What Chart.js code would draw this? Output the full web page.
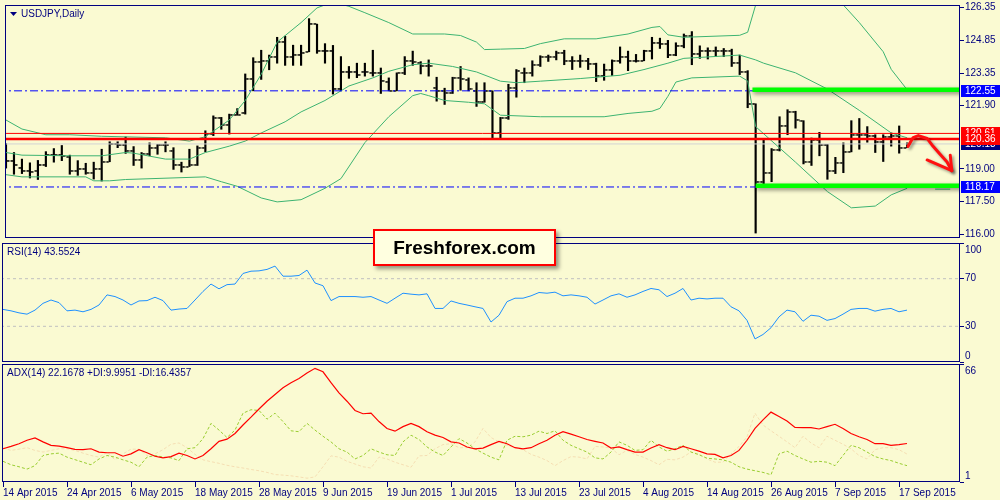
<!DOCTYPE html>
<html>
<head>
<meta charset="utf-8">
<script src="https://cdn.jsdelivr.net/npm/chart.js@4.4.1/dist/chart.umd.min.js"></script>
<style>
  body { margin: 0; background: #FAFAD2; }
  #wrap { position: relative; width: 1000px; height: 500px; overflow: hidden; }
  canvas { position: absolute; left: 0; }
  #logo {
    position: absolute; left: 373px; top: 229px; width: 179px; height: 33px;
    border: 2px solid #ff0000; background: #FFFFE0;
    box-shadow: 3px 3px 4px rgba(0,0,0,0.4);
    font: bold 19px "Liberation Sans", Arial, sans-serif; color: #000;
    text-align: center; line-height: 33px; z-index: 5;
  }
</style>
</head>
<body>
<div id="wrap">
  <canvas id="price" width="1000" height="243" style="top:0"></canvas>
  <canvas id="rsi" width="1000" height="120" style="top:243px"></canvas>
  <canvas id="adx" width="1000" height="136" style="top:364px"></canvas>
  <div id="logo">Freshforex.com</div>
</div>
<script>
// USDJPY daily bars, 14 Apr 2015 .. 18 Sep 2015
const opens = [119.74,119.34,119.03,118.90,118.92,119.15,119.62,119.62,119.52,118.92,
  118.97,118.82,118.97,119.32,120.15,120.06,119.81,119.41,119.66,119.96,
  120.06,119.81,119.15,119.10,119.19,119.96,120.58,121.29,121.00,121.44,
  121.52,123.07,123.88,123.91,124.11,124.77,124.11,124.18,124.33,125.59,
  124.36,124.36,122.63,123.40,123.40,123.40,123.37,123.37,122.95,122.55,
  123.37,123.91,123.81,123.66,122.67,122.55,122.43,123.14,123.03,122.55,
  122.03,122.52,120.63,121.29,122.70,123.37,123.37,123.74,124.11,124.11,
  124.26,123.89,123.89,123.92,123.77,123.22,123.52,123.92,124.11,123.92,
  123.92,124.36,124.74,124.70,124.18,124.60,125.07,124.21,124.36,124.36,
  124.36,124.36,123.81,123.41,121.93,118.38,118.82,119.86,120.95,121.59,
  121.19,119.33,120.33,120.06,118.88,119.27,119.77,120.55,120.55,120.48,
  120.21,120.45,120.51,119.96];
const highs = [120.15,119.74,119.44,119.27,119.38,119.78,119.92,120.06,119.62,119.37,
  119.25,119.30,119.89,120.23,120.23,120.45,120.01,119.74,120.18,120.11,
  120.23,119.96,119.30,119.89,120.04,120.73,121.41,121.34,121.49,121.74,
  123.32,124.06,124.40,124.18,124.99,125.04,124.63,124.63,125.84,125.59,
  124.70,124.62,124.11,123.66,123.81,123.81,124.40,123.59,123.14,123.37,
  124.11,124.36,123.88,123.96,123.17,122.67,123.17,123.66,123.14,122.92,
  122.92,122.55,121.34,122.85,123.52,123.59,123.92,124.15,124.18,124.36,
  124.40,124.11,124.18,124.03,123.81,123.77,123.96,124.55,124.36,124.21,
  124.40,124.99,124.95,124.85,124.74,125.14,125.25,124.60,124.51,124.55,
  124.48,124.45,124.18,123.47,121.96,120.36,119.92,121.37,121.69,121.62,
  121.19,120.40,120.66,120.11,119.52,120.18,121.19,121.29,120.92,120.55,
  120.55,120.63,120.95,120.18];
const lows = [119.03,118.75,118.78,118.58,118.51,119.10,119.30,119.37,118.75,118.70,
  118.75,118.53,118.44,119.32,119.96,119.70,119.15,119.03,119.59,119.66,
  119.77,118.97,118.85,119.10,119.15,119.77,120.51,120.80,120.58,121.44,
  121.49,122.55,123.07,123.51,123.81,123.71,123.71,123.71,124.33,124.26,
  123.81,122.40,122.55,123.12,123.15,123.22,123.22,122.43,122.55,122.55,
  123.29,123.71,123.32,123.22,122.08,121.93,122.43,122.58,122.55,121.84,
  122.03,120.38,120.38,121.25,122.26,122.92,123.22,123.66,123.89,123.96,
  123.74,123.52,123.62,123.52,122.97,123.03,123.25,123.81,123.47,123.86,
  123.92,124.00,124.48,124.06,124.15,124.51,123.74,124.03,124.00,124.11,
  124.11,123.66,123.29,121.78,116.07,118.18,118.41,119.81,120.55,120.85,
  119.22,119.15,119.59,118.52,118.78,118.82,119.77,119.89,120.21,119.74,
  119.33,120.03,119.71,119.96];
const closes = [119.34,119.15,118.92,118.85,119.15,119.62,119.62,119.56,118.92,118.97,
  118.82,118.97,119.32,120.15,120.06,119.81,119.41,119.66,119.96,120.06,
  120.06,119.15,119.07,119.19,119.96,120.58,121.29,121.00,121.44,121.47,
  123.07,123.88,123.91,124.11,124.77,124.11,124.18,124.26,125.59,124.36,
  124.36,122.63,123.40,123.40,123.29,123.40,123.37,123.00,122.55,123.37,
  123.91,123.88,123.66,123.66,122.55,122.43,123.14,123.07,122.63,122.03,
  122.52,120.63,121.29,122.70,123.44,123.37,123.74,124.11,124.11,124.26,
  123.89,123.89,123.92,123.77,123.22,123.52,123.92,124.11,123.92,123.92,
  124.36,124.74,124.70,124.18,124.60,125.07,124.21,124.36,124.36,124.36,
  124.36,123.81,123.41,121.93,118.38,118.82,119.86,120.95,121.59,121.22,
  119.33,120.33,120.06,118.88,119.27,119.77,120.55,120.55,120.48,120.21,
  120.45,120.51,119.96,120.13];

// Bollinger bands (20), vertices read as [bar, price]
const bbUpper = [[0,121.22],[2,120.81],[5,120.55],[8,120.55],[12,120.48],[20,120.41],[23,120.26],[25,120.46],
  [28,121.22],[30,122.11],[32,123.3],[34,124.77],[37,125.66],[39,126.33],[41,126.6],[43,126.40],[45,126.11],
  [48,125.66],[51,125.14],[55,125.14],[57,125.07],[59,124.77],[60,124.43],[62,124.45],[65,124.48],[67,124.70],
  [70,124.92],[74,124.92],[78,125.14],[81,125.44],[82,125.48],[83,125.10],[85,124.99],[92,125.08],[93,125.22],
  [94,126.46],[98,127.6],[102,128.0],[105,126.46],[107,125.66],[110,124.33],[111,123.53],[113,122.60]];
const bbMiddle = [[0,119.74],[2,119.62],[8,119.59],[12,119.59],[15,119.74],[16,119.71],[20,119.44],[23,119.44],
  [25,119.74],[28,120.03],[30,120.26],[32,120.63],[35,121.14],[37,121.59],[40,122.11],[41,122.33],[43,122.77],
  [46,123.14],[48,123.44],[51,123.74],[53,123.81],[56,123.66],[59,123.41],[62,122.99],[64,122.92],[67,122.99],
  [72,123.11],[77,123.26],[80,123.52],[83,123.81],[85,124.03],[92,124.18],[94,123.96],[95,123.81],[99,123.37],
  [103,122.63],[107,121.66],[111,120.63],[113,120.41]];
const bbLower = [[0,118.73],[2,118.63],[10,118.63],[11,118.45],[13,118.45],[15,118.51],[25,118.63],[27,118.41],
  [29,118.20],[32,117.67],[34,117.49],[37,117.59],[40,118.11],[42,118.55],[45,120.19],[48,121.37],[51,122.33],
  [52,122.43],[53,122.33],[55,122.11],[58,122.03],[60,121.96],[62,121.44],[67,121.37],[75,121.37],[78,121.52],
  [81,121.62],[82,121.75],[83,122.3],[84,122.95],[86,123.14],[92,123.22],[93,123.0],[94,120.92],[99,119.30],
  [103,117.96],[106,117.22],[109,117.30],[111,117.81],[113,118.11]];

// levels drawn on the chart
const blueLevels = [122.55, 118.17];
const redLevels = [120.61, 120.36];
const bidPrice = 120.13;
const greenZones = [[93.6, 122.60], [94, 118.22]];
const priceTicks = [126.35, 124.85, 123.35, 121.90, 119.00, 117.50, 116.00];

const rsi = [44.2,43.0,41.3,40.2,43.6,49.3,52.1,49.9,43.0,43.6,
  42.2,44.2,47.9,56.4,55.0,52.1,47.9,51.3,51.6,54.4,
  51.6,43.6,44.5,45.0,52.1,59.3,65.5,61.5,65.0,65.5,
  74.4,76.3,76.6,77.8,80.6,72.1,72.1,72.7,77.2,66.4,
  64.1,51.6,55.0,55.0,55.0,54.4,55.0,52.1,49.3,53.6,
  57.8,57.0,56.4,57.3,45.0,45.0,51.3,49.3,47.9,46.4,
  45.0,33.6,39.3,50.7,53.6,53.6,55.6,58.4,57.8,58.7,
  55.6,56.4,55.6,54.4,48.7,52.1,55.6,57.3,54.4,56.4,
  59.3,61.8,60.7,55.0,57.8,61.8,52.1,53.6,53.0,53.6,
  53.6,46.4,43.0,35.0,19.4,23.1,28.8,37.9,43.6,42.2,
  34.2,39.3,38.5,35.0,36.5,40.2,44.2,45.0,45.0,42.7,
  44.2,45.0,42.2,43.6];
const rsiLevels = [70, 30];

const adx = [19.3,20.6,22.1,24.0,25.3,23.1,21.2,20.8,19.9,19.0,
  18.8,19.3,17.5,17.1,17.1,15.2,16.5,18.8,17.1,15.2,
  14.3,15.0,16.9,15.6,13.7,15.6,19.3,23.4,24.6,27.7,
  32.4,36.7,41.2,45.5,49.2,52.9,55.7,58.0,61.0,63.6,
  61.7,55.7,50.1,45.5,40.4,38.6,38.9,34.3,30.5,29.0,
  31.5,33.3,31.5,28.7,26.8,25.5,23.1,22.5,20.3,19.3,
  19.7,21.6,23.4,22.1,19.9,19.3,19.9,22.1,24.0,26.8,
  28.7,27.4,25.9,24.4,23.4,22.5,19.7,20.3,18.8,17.5,
  17.5,19.7,21.6,19.9,18.8,20.6,19.3,18.0,16.5,16.2,
  14.3,15.6,18.4,24.0,30.5,35.2,39.5,37.1,34.6,31.1,
  30.9,30.9,30.2,31.5,32.8,30.5,27.7,25.9,24.4,22.1,
  22.1,21.2,21.6,22.2];
const plusDI = [12.4,10.5,9.4,8.1,10.0,15.6,16.5,16.9,14.7,13.3,
  11.9,10.5,13.7,15.6,14.7,13.2,11.9,9.4,14.7,15.6,
  14.7,14.3,12.8,19.3,19.9,24.9,33.3,29.6,25.5,29.6,
  38.9,40.8,40.4,35.6,38.9,34.3,29.2,28.7,33.3,29.6,
  26.2,23.1,19.3,17.5,13.7,15.6,19.3,17.5,16.0,15.6,
  23.1,26.8,24.4,20.3,17.5,15.6,20.3,24.9,22.5,19.3,
  16.9,14.7,13.2,24.0,26.2,25.9,26.8,29.0,27.7,29.2,
  24.0,21.2,19.3,17.5,14.3,13.7,17.5,23.1,21.2,18.4,
  18.8,24.0,20.3,18.0,19.3,21.2,17.5,16.0,14.1,13.7,
  13.2,11.9,9.4,8.1,7.2,6.3,5.0,16.5,18.0,15.6,
  13.7,11.9,12.4,11.9,10.0,15.6,21.2,19.9,17.5,15.0,
  13.7,12.8,11.3,10.0];
const minusDI = [19.9,18.4,19.1,19.9,18.4,17.5,18.4,19.3,19.3,18.4,
  16.9,15.6,14.7,17.3,13.2,16.5,19.1,19.1,15.6,16.5,
  18.8,21.8,22.5,19.9,16.2,13.2,12.2,11.3,10.2,9.4,
  8.7,7.9,7.2,6.3,5.1,4.8,4.4,3.8,3.1,3.8,
  9.4,15.4,14.7,12.4,10.9,9.4,8.7,14.7,13.7,11.9,
  10.5,9.1,15.4,15.6,19.3,21.6,22.1,19.9,19.9,23.1,
  30.5,25.5,23.1,21.2,19.9,18.8,16.2,14.7,12.8,10.0,
  12.8,15.0,14.7,13.7,20.6,20.3,19.7,16.0,18.4,16.2,
  14.7,12.8,10.5,13.5,13.2,14.7,17.5,16.5,13.7,11.9,
  11.9,16.5,20.6,25.9,38.9,32.4,29.2,26.2,23.1,19.9,
  26.2,22.5,19.9,26.2,24.0,21.8,19.3,15.6,13.7,18.8,
  19.9,19.9,18.8,16.4];

// hand drawn arrow, [bar, price]
const arrowPath = [[113.1,120.02],[113.75,120.42],[114.4,120.51],[115.5,120.38],[116.25,120.02],[117.1,119.67],[118,119.31],[118.6,118.91]];
const arrowHead = [[115.5,119.40],[118.6,118.91],[118.4,119.62]];

// dates: one bar per weekday
const MONTHS = ['Jan','Feb','Mar','Apr','May','Jun','Jul','Aug','Sep','Oct','Nov','Dec'];
const dates = [];
for (let d = new Date(2015, 3, 14); dates.length < closes.length; d.setDate(d.getDate() + 1)) {
  if (d.getDay() !== 0 && d.getDay() !== 6) dates.push(d.getDate() + ' ' + MONTHS[d.getMonth()] + ' ' + d.getFullYear());
}
const dateTicks = [];
for (let i = 0; i < closes.length; i += 8) dateTicks.push(i);

const NAVY = '#000080';
const FONT = '"Liberation Sans", Arial, sans-serif';
Chart.defaults.font.family = FONT;
Chart.defaults.font.size = 10;
Chart.defaults.color = NAVY;

function xScale(show) {
  const s = {
    type: 'linear', min: -0.125, max: 119.625, display: show, offset: false,
    grid: { drawOnChartArea: false, drawTicks: true, tickLength: 5, color: NAVY },
    border: { display: false },
    ticks: { autoSkip: false, maxRotation: 0, align: 'start', padding: 0, color: NAVY,
      callback: v => dates[v] || '' }
  };
  if (show) {
    s.afterBuildTicks = sc => { sc.ticks = dateTicks.map(v => ({ value: v })); };
    s.afterFit = sc => { sc.height = 18; sc.paddingLeft = 0; sc.paddingRight = 0; };
  }
  return s;
}
function yScale(min, max, ticks, showLabels) {
  return {
    position: 'right', min: min, max: max,
    afterBuildTicks: s => { s.ticks = ticks.map(v => ({ value: v })); },
    afterFit: s => { s.width = 40; s.paddingTop = 0; s.paddingBottom = 0; },
    grid: { drawOnChartArea: false, drawTicks: true, tickLength: 4, color: NAVY },
    border: { display: false },
    ticks: { display: showLabels, padding: 1, color: NAVY, callback: v => v.toFixed(2) }
  };
}

// panel frame + title
function panel(title, arrow) {
  return {
    id: 'panel',
    afterDraw(ch) {
      const a = ch.chartArea, g = ch.ctx;
      g.save();
      g.strokeStyle = NAVY; g.lineWidth = 1;
      g.strokeRect(a.left + 0.5, a.top + 0.5, a.right - a.left - 1, a.bottom - a.top - 1);
      g.fillStyle = NAVY; g.font = '10px ' + FONT; g.textBaseline = 'middle';
      let x = a.left + 5;
      if (arrow) {
        g.beginPath(); g.moveTo(a.left + 5, a.top + 7); g.lineTo(a.left + 12, a.top + 7); g.lineTo(a.left + 8.5, a.top + 11); g.closePath(); g.fill();
        x = a.left + 16;
      }
      g.fillText(title, x, a.top + 9);
      g.restore();
    }
  };
}
function sideLabels(vals) {
  return {
    id: 'side',
    afterDraw(ch) {
      const s = ch.scales.y, a = ch.chartArea, g = ch.ctx;
      g.save(); g.fillStyle = NAVY; g.font = '10px ' + FONT; g.textBaseline = 'middle';
      vals.forEach(v => {
        const y = Math.min(Math.max(s.getPixelForValue(v), a.top + 7), a.bottom - 6);
        g.fillText(String(v), a.right + 5, y);
      });
      g.restore();
    }
  };
}
const shadow = {
  id: 'shadow',
  beforeDatasetDraw(ch, args) {
    if (!ch.data.datasets[args.index].shadow) return;
    const g = ch.ctx; g.save();
    g.shadowColor = 'rgba(0,0,0,0.45)'; g.shadowBlur = 4; g.shadowOffsetX = 1; g.shadowOffsetY = 2;
  },
  afterDatasetDraw(ch, args) {
    if (ch.data.datasets[args.index].shadow) ch.ctx.restore();
  }
};
const priceMarks = {
  id: 'priceMarks',
  afterDraw(ch) {
    const g = ch.ctx, xs = ch.scales.x, ys = ch.scales.y, a = ch.chartArea;
    // arrow
    g.save();
    g.strokeStyle = '#ff1010'; g.lineWidth = 3; g.lineCap = 'round'; g.lineJoin = 'round';
    g.shadowColor = 'rgba(0,0,0,0.4)'; g.shadowBlur = 3; g.shadowOffsetX = 2; g.shadowOffsetY = 2;
    g.beginPath();
    arrowPath.forEach((p, k) => {
      const px = xs.getPixelForValue(p[0]), py = ys.getPixelForValue(p[1]);
      k ? g.lineTo(px, py) : g.moveTo(px, py);
    });
    g.stroke();
    g.beginPath();
    arrowHead.forEach((p, k) => {
      const px = xs.getPixelForValue(p[0]), py = ys.getPixelForValue(p[1]);
      k ? g.lineTo(px, py) : g.moveTo(px, py);
    });
    g.stroke();
    g.restore();
    // price boxes on the axis
    const boxes = [[bidPrice, NAVY], [blueLevels[0], '#0000ff'], [blueLevels[1], '#0000ff'], [redLevels[0], '#ff0000'], [redLevels[1], '#ff0000']];
    g.save(); g.font = '10px ' + FONT; g.textBaseline = 'middle';
    boxes.forEach(b => {
      const y = Math.round(ys.getPixelForValue(b[0]));
      g.fillStyle = b[1]; g.fillRect(a.right + 1, y - 6, 40, 12);
      g.fillStyle = '#ffffff'; g.fillText(b[0].toFixed(2), a.right + 5, y);
    });
    g.restore();
  }
};

function tickImg(open) {
  const c = document.createElement('canvas'); c.width = 8; c.height = 2;
  const g = c.getContext('2d'); g.fillStyle = '#000';
  g.fillRect(open ? 0.5 : 4.8, 0.2, 2.7, 1.5);
  return c;
}
const hline = (v, from, to) => [{ x: from, y: v }, { x: to, y: v }];
const pts = arr => arr.map(p => ({ x: p[0], y: p[1] }));
const bbStyle = { type: 'line', borderColor: '#3CB371', borderWidth: 1, pointRadius: 0, order: 5 };

new Chart(document.getElementById('price'), {
  type: 'bar',
  data: {
    datasets: [
      { type: 'bar', data: highs.map((h, i) => ({ x: i, y: [lows[i], h] })), backgroundColor: '#000', barThickness: 1.5, grouped: false, order: 10 },
      { type: 'line', data: opens.map((v, i) => ({ x: i, y: v })), showLine: false, pointStyle: tickImg(true), pointRadius: 3, order: 10 },
      { type: 'line', data: closes.map((v, i) => ({ x: i, y: v })), showLine: false, pointStyle: tickImg(false), pointRadius: 3, order: 10 },
      Object.assign({ data: pts(bbUpper) }, bbStyle),
      Object.assign({ data: pts(bbMiddle) }, bbStyle),
      Object.assign({ data: pts(bbLower) }, bbStyle),
      { type: 'line', data: hline(bidPrice, -1, 121), borderColor: '#D3D3D3', borderWidth: 1, pointRadius: 0, order: 8 },
      ...blueLevels.map(v => ({ type: 'line', data: hline(v, -1, 121), borderColor: '#0000ff', borderWidth: 1, borderDash: [8, 3, 2, 3], pointRadius: 0, order: 3 })),
      { type: 'line', data: hline(redLevels[0], -1, 121), borderColor: '#ff0000', borderWidth: 1, pointRadius: 0, order: 3 },
      { type: 'line', data: hline(redLevels[1], -1, 121), borderColor: '#ff0000', borderWidth: 2.5, pointRadius: 0, order: 3 },
      ...greenZones.map(z => ({ type: 'line', data: hline(z[1], z[0], 121), borderColor: '#00ff00', borderWidth: 4.5, pointRadius: 0, order: 1, shadow: true })),
      { type: 'line', data: hline(118.07, 116.5, 118.4), borderColor: '#3CB371', borderWidth: 1, pointRadius: 0, order: 1 }
    ]
  },
  options: {
    responsive: false, animation: false, events: [], devicePixelRatio: 1,
    layout: { padding: { left: 2, top: 2, bottom: 2, right: 0 } },
    plugins: { legend: { display: false }, tooltip: { enabled: false } },
    scales: { x: xScale(false), y: yScale(115.845, 126.461, priceTicks, true) }
  },
  plugins: [panel('USDJPY,Daily', true), shadow, priceMarks]
});

new Chart(document.getElementById('rsi'), {
  type: 'line',
  data: {
    datasets: [
      { data: rsi.map((v, i) => ({ x: i, y: v })), borderColor: '#1E90FF', borderWidth: 1, pointRadius: 0, order: 1 },
      ...rsiLevels.map(v => ({ data: hline(v, -1, 121), borderColor: '#C0C0C0', borderWidth: 1, borderDash: [3, 3], pointRadius: 0, order: 2 }))
    ]
  },
  options: {
    responsive: false, animation: false, events: [], devicePixelRatio: 1,
    layout: { padding: { left: 2, top: 0, bottom: 1, right: 0 } },
    plugins: { legend: { display: false }, tooltip: { enabled: false } },
    scales: { x: xScale(false), y: yScale(0, 100, [100, 70, 30, 0], false) }
  },
  plugins: [panel('RSI(14) 43.5524', false), sideLabels([100, 70, 30, 0])]
});

new Chart(document.getElementById('adx'), {
  type: 'line',
  data: {
    datasets: [
      { data: adx.map((v, i) => ({ x: i, y: v })), borderColor: '#ff0000', borderWidth: 1.2, pointRadius: 0, order: 1 },
      { data: plusDI.map((v, i) => ({ x: i, y: v })), borderColor: '#9ACD32', borderWidth: 1, borderDash: [3, 2], pointRadius: 0, order: 2 },
      { data: minusDI.map((v, i) => ({ x: i, y: v })), borderColor: '#F5DEB3', borderWidth: 1, borderDash: [3, 2], pointRadius: 0, order: 3 }
    ]
  },
  options: {
    responsive: false, animation: false, events: [], devicePixelRatio: 1,
    layout: { padding: { left: 2, top: 0, bottom: 0, right: 0 } },
    plugins: { legend: { display: false }, tooltip: { enabled: false } },
    scales: { x: xScale(true), y: yScale(1, 66, [66, 1], false) }
  },
  plugins: [panel('ADX(14) 22.1678 +DI:9.9951 -DI:16.4357', false), sideLabels([66, 1])]
});
</script>
</body>
</html>
